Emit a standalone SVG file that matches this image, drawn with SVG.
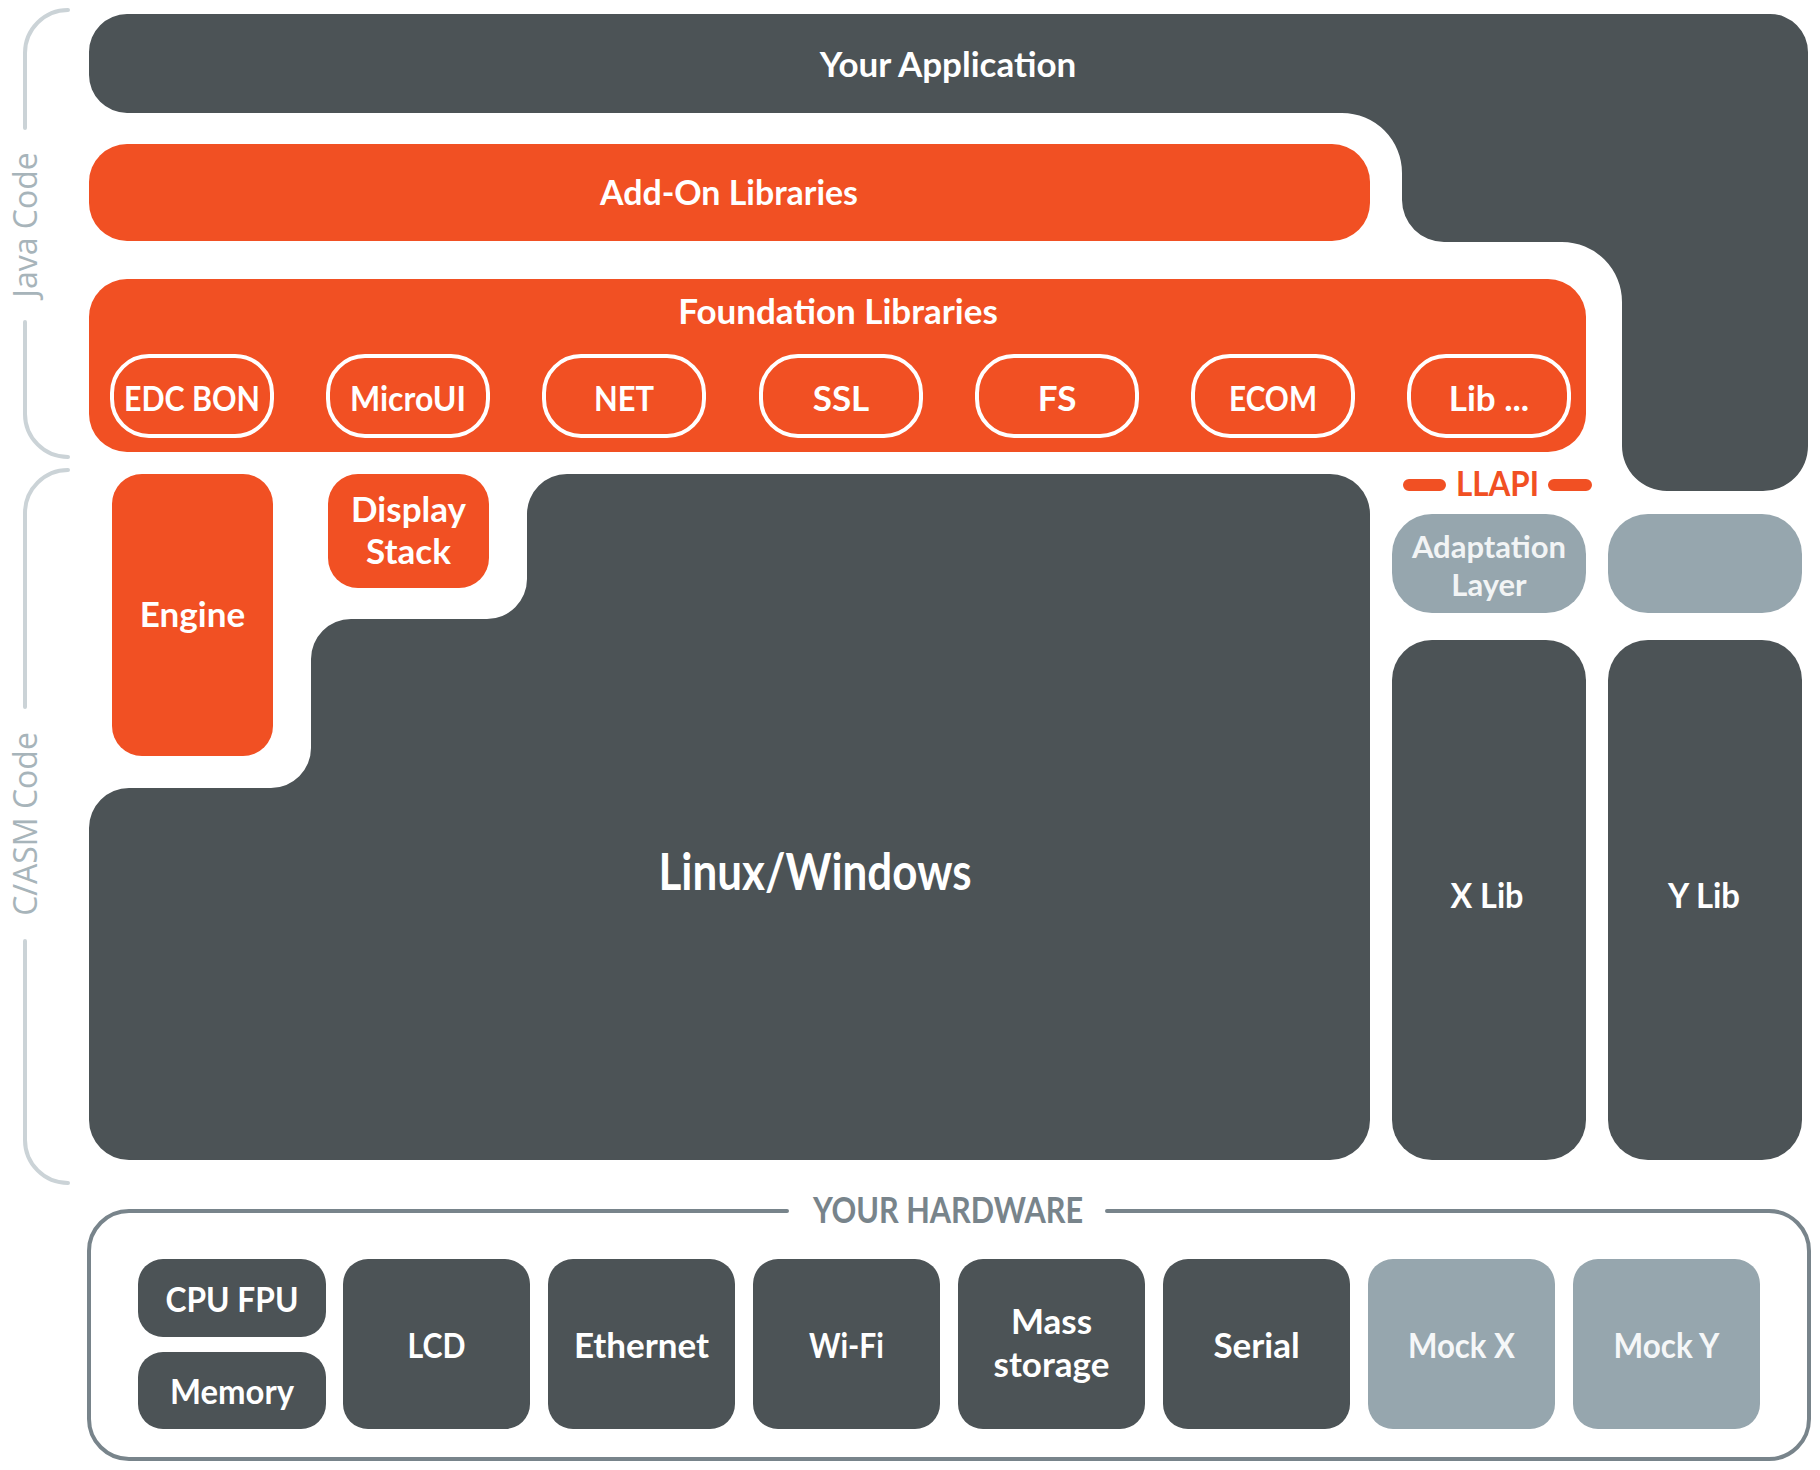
<svg xmlns="http://www.w3.org/2000/svg" width="1820" height="1470" viewBox="0 0 1820 1470">
<style>
.dark{fill:#4c5356}
.org{fill:#f15023}
.gry{fill:#96a6ae}
.t{font-family:Lato,"Open Sans","Liberation Sans",sans-serif;font-weight:700;fill:#ffffff;text-anchor:middle}
.t36{font-size:35px}
.pill{fill:none;stroke:#ffffff;stroke-width:4}
.brk{fill:none;stroke:#cbd3d7;stroke-width:4;stroke-linecap:round}
.side{font-family:"Open Sans","Liberation Sans",sans-serif;font-size:32px;fill:#a7b4ba;text-anchor:middle}
.hw{fill:none;stroke:#78848b;stroke-width:4;stroke-linecap:round}
</style>

<g id="brackets">
<path class="brk" d="M68 10 A43 43 0 0 0 25 53 V128 M25 322 V414 A43 43 0 0 0 68 457"/>
<text class="side" transform="translate(37,225) rotate(-90)">Java Code</text>
<path class="brk" d="M68 470 A43 43 0 0 0 25 513 V707 M25 941 V1140 A43 43 0 0 0 68 1183"/>
<text class="side" transform="translate(37,824) rotate(-90)">C/ASM Code</text>
</g>

<g id="your-application">
<path class="dark" d="M127 14 H1770 A38 38 0 0 1 1808 52 V446 A45 45 0 0 1 1763 491 H1667 A45 45 0 0 1 1622 446 V302 A60 60 0 0 0 1562 242 H1444 A42 42 0 0 1 1402 200 V173 A60 60 0 0 0 1342 113 H127 A38 38 0 0 1 89 75 V52 A38 38 0 0 1 127 14 Z"/>
<text class="t t36" x="948" y="77">Your Application</text>
</g>

<g id="addon-libraries">
<rect class="org" x="89" y="144" width="1281" height="97" rx="38"/>
<text class="t t36" x="729" y="205" textLength="258" lengthAdjust="spacingAndGlyphs">Add-On Libraries</text>
</g>

<g id="foundation-libraries">
<rect class="org" x="89" y="279" width="1497" height="173" rx="38"/>
<text class="t t36" x="838" y="324">Foundation Libraries</text>
</g>

<g id="fl-edcbon"><rect class="pill" x="112" y="356" width="160" height="80" rx="37"/><text class="t t36" x="192" y="411" textLength="136" lengthAdjust="spacingAndGlyphs">EDC BON</text></g>
<g id="fl-microui"><rect class="pill" x="328" y="356" width="160" height="80" rx="37"/><text class="t t36" x="408" y="411" textLength="116" lengthAdjust="spacingAndGlyphs">MicroUI</text></g>
<g id="fl-net"><rect class="pill" x="544" y="356" width="160" height="80" rx="37"/><text class="t t36" x="624" y="411" textLength="60" lengthAdjust="spacingAndGlyphs">NET</text></g>
<g id="fl-ssl"><rect class="pill" x="761" y="356" width="160" height="80" rx="37"/><text class="t t36" x="841" y="411">SSL</text></g>
<g id="fl-fs"><rect class="pill" x="977" y="356" width="160" height="80" rx="37"/><text class="t t36" x="1057" y="411">FS</text></g>
<g id="fl-ecom"><rect class="pill" x="1193" y="356" width="160" height="80" rx="37"/><text class="t t36" x="1273" y="411" textLength="88" lengthAdjust="spacingAndGlyphs">ECOM</text></g>
<g id="fl-lib"><rect class="pill" x="1409" y="356" width="160" height="80" rx="37"/><text class="t t36" x="1489" y="411">Lib ...</text></g>

<g id="engine">
<rect class="org" x="112" y="474" width="161" height="282" rx="30"/>
<text class="t t36" x="192.5" y="627">Engine</text>
</g>

<g id="display-stack">
<rect class="org" x="328" y="474" width="161" height="114" rx="30"/>
<text class="t t36" x="408.5" y="522">Display</text>
<text class="t t36" x="408.5" y="564">Stack</text>
</g>

<g id="linux-windows">
<path class="dark" d="M567 474 H1330 A40 40 0 0 1 1370 514 V1120 A40 40 0 0 1 1330 1160 H129 A40 40 0 0 1 89 1120 V828 A40 40 0 0 1 129 788 H271 A40 40 0 0 0 311 748 V659 A40 40 0 0 1 351 619 H487 A40 40 0 0 0 527 579 V514 A40 40 0 0 1 567 474 Z"/>
<text class="t" style="font-size:51px" x="815" y="890" textLength="313" lengthAdjust="spacingAndGlyphs">Linux/Windows</text>
</g>

<g id="llapi">
<path d="M1409 485 H1440 M1554 485 H1586" stroke="#f15023" stroke-width="12" stroke-linecap="round" fill="none"/>
<text class="t t36" style="fill:#f15023" x="1497.5" y="496" textLength="83" lengthAdjust="spacingAndGlyphs">LLAPI</text>
</g>

<g id="adaptation-layer">
<rect class="gry" x="1392" y="514" width="194" height="99" rx="40"/>
<text class="t" style="font-size:31px;fill:#f2f4f5" x="1489" y="558">Adaptation</text>
<text class="t" style="font-size:31px;fill:#f2f4f5" x="1489" y="596">Layer</text>
</g>

<g id="adaptation-empty">
<rect class="gry" x="1608" y="514" width="194" height="99" rx="40"/>
</g>

<g id="x-lib">
<rect class="dark" x="1392" y="640" width="194" height="520" rx="40"/>
<text class="t t36" x="1487" y="908" textLength="73" lengthAdjust="spacingAndGlyphs">X Lib</text>
</g>

<g id="y-lib">
<rect class="dark" x="1608" y="640" width="194" height="520" rx="40"/>
<text class="t t36" x="1704" y="908" textLength="72" lengthAdjust="spacingAndGlyphs">Y Lib</text>
</g>

<g id="hardware">
<path class="hw" d="M787 1211 H129 A40 40 0 0 0 89 1251 V1419 A40 40 0 0 0 129 1459 H1769 A40 40 0 0 0 1809 1419 V1251 A40 40 0 0 0 1769 1211 H1107"/>
<text class="t" style="font-size:36px;fill:#78848b" x="948" y="1223" textLength="270" lengthAdjust="spacingAndGlyphs">YOUR HARDWARE</text>
</g>

<g id="hw-cpu"><rect class="dark" x="138" y="1259" width="188" height="78" rx="25"/><text class="t t36" x="232" y="1312" textLength="133" lengthAdjust="spacingAndGlyphs">CPU FPU</text></g>
<g id="hw-memory"><rect class="dark" x="138" y="1352" width="188" height="77" rx="25"/><text class="t t36" x="232" y="1404" textLength="124" lengthAdjust="spacingAndGlyphs">Memory</text></g>
<g id="hw-lcd"><rect class="dark" x="343" y="1259" width="187" height="170" rx="25"/><text class="t t36" x="436.5" y="1358" textLength="58" lengthAdjust="spacingAndGlyphs">LCD</text></g>
<g id="hw-ethernet"><rect class="dark" x="548" y="1259" width="187" height="170" rx="25"/><text class="t t36" x="641.5" y="1358">Ethernet</text></g>
<g id="hw-wifi"><rect class="dark" x="753" y="1259" width="187" height="170" rx="25"/><text class="t t36" x="846.5" y="1358" textLength="75" lengthAdjust="spacingAndGlyphs">Wi-Fi</text></g>
<g id="hw-mass"><rect class="dark" x="958" y="1259" width="187" height="170" rx="25"/><text class="t t36" x="1051.5" y="1334">Mass</text><text class="t t36" x="1051.5" y="1377">storage</text></g>
<g id="hw-serial"><rect class="dark" x="1163" y="1259" width="187" height="170" rx="25"/><text class="t t36" x="1256.5" y="1358">Serial</text></g>
<g id="hw-mockx"><rect class="gry" x="1368" y="1259" width="187" height="170" rx="25"/><text class="t t36" style="fill:#f5f7f8" x="1461.5" y="1358" textLength="107" lengthAdjust="spacingAndGlyphs">Mock X</text></g>
<g id="hw-mocky"><rect class="gry" x="1573" y="1259" width="187" height="170" rx="25"/><text class="t t36" style="fill:#f5f7f8" x="1666.5" y="1358" textLength="106" lengthAdjust="spacingAndGlyphs">Mock Y</text></g>
</svg>
